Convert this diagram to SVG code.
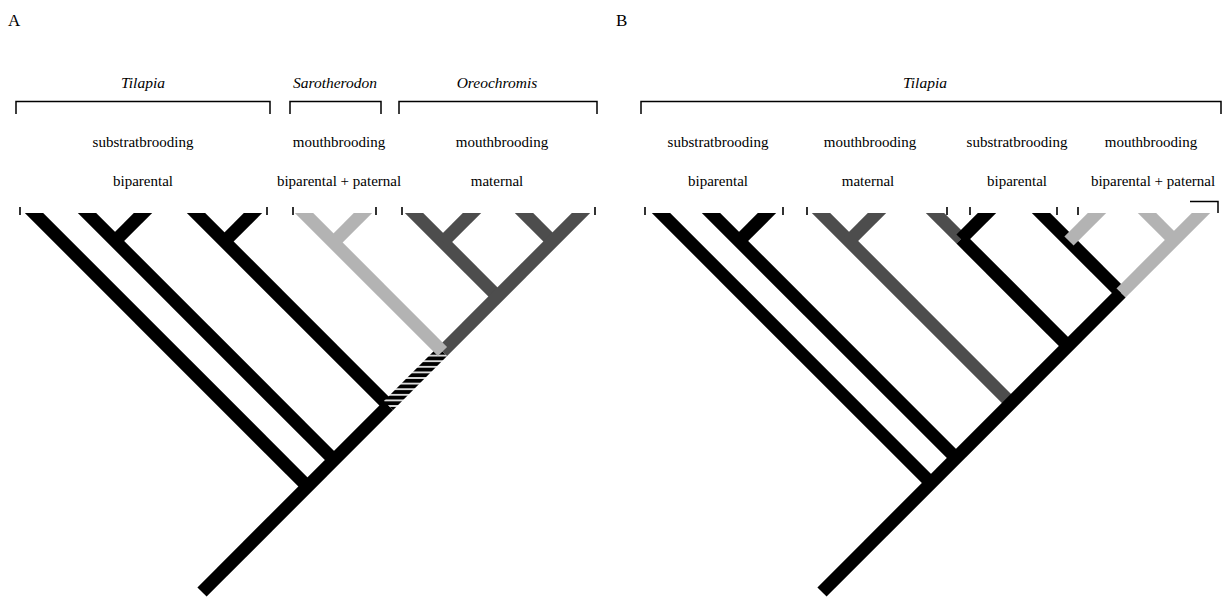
<svg xmlns="http://www.w3.org/2000/svg" width="1223" height="601" viewBox="0 0 1223 601">
<style>
text{font-family:"Liberation Serif","Times New Roman",serif;font-size:15px;fill:#000;text-anchor:middle}
.ttl{font-style:italic;font-size:15.5px}
.pl{font-size:17px;text-anchor:start}
.br{fill:none;stroke:#000;stroke-width:1.5}
.tk{stroke:#000;stroke-width:1.6}
.b{fill:none;stroke-width:13;stroke-linecap:butt}
.k{stroke:#000}.lg{stroke:#b3b3b3}.dg{stroke:#4d4d4d}.h{stroke:url(#hatch)}
</style>
<defs>
<pattern id="hatch" patternUnits="userSpaceOnUse" width="40" height="5.6">
<rect width="40" height="5.6" fill="#000"/><rect y="2" width="40" height="1.6" fill="#fff"/>
</pattern>
<clipPath id="clipTips"><rect x="0" y="213" width="1223" height="400"/></clipPath>
</defs>
<rect width="1223" height="601" fill="#fff"/>

<g id="panel-labels">
<text class="pl" x="8" y="26">A</text>
<text class="pl" x="616" y="26">B</text>
</g>

<g id="a-tilapia">
<text class="ttl" x="143" y="88">Tilapia</text>
<path class="br" d="M16,114V101.5H270V114"/>
<text x="143" y="147">substratbrooding</text>
<text x="143" y="186">biparental</text>
</g>
<g id="a-sarotherodon">
<text class="ttl" x="335" y="88">Sarotherodon</text>
<path class="br" d="M290,114V101.5H381V114"/>
<text x="339" y="147">mouthbrooding</text>
<text x="339" y="186">biparental + paternal</text>
</g>
<g id="a-oreochromis">
<text class="ttl" x="497" y="88">Oreochromis</text>
<path class="br" d="M399,114V101.5H597V114"/>
<text x="502" y="147">mouthbrooding</text>
<text x="497" y="186">maternal</text>
</g>

<g id="b-tilapia">
<text class="ttl" x="925" y="88">Tilapia</text>
<path class="br" d="M641,114V101.5H1221V114"/>
</g>
<g id="b-group1">
<text x="718" y="147">substratbrooding</text>
<text x="718" y="186">biparental</text>
</g>
<g id="b-group2">
<text x="870" y="147">mouthbrooding</text>
<text x="868" y="186">maternal</text>
</g>
<g id="b-group3">
<text x="1017" y="147">substratbrooding</text>
<text x="1017" y="186">biparental</text>
</g>
<g id="b-group4">
<text x="1151" y="147">mouthbrooding</text>
<text x="1153" y="186">biparental + paternal</text>
</g>

<g id="ticks">
<path class="tk" d="M20,207V215M267,207V215M293,207V215M376,207V215M402,207V215M595,207V215"/>
<path class="tk" d="M645,207V215M783,207V215M807,207V215M947,207V215M970,207V215M1057,207V215M1078,207V215"/>
<path class="br" d="M1190,201.5H1218V213"/>
</g>

<g id="connectors" clip-path="url(#clipTips)">
<g id="tree-a">
<path class="b k" d="M21,200L307.5,486.5"/>
<path class="b k" d="M74,200L334,460"/>
<path class="b k" d="M156,200L115,241"/>
<path class="b k" d="M183,200L388.5,405.5"/>
<path class="b k" d="M266,200L224.5,241.5"/>
<path class="b k" d="M202,592L388.5,405.5"/>
<path class="b h" d="M388.5,405.5L442.5,351.5"/>
<path class="b dg" d="M401,200L497.5,296.5"/>
<path class="b dg" d="M485,200L443,242"/>
<path class="b dg" d="M511,200L552.5,241.5"/>
<path class="b dg" d="M594,200L442.5,351.5"/>
<path class="b lg" d="M291,200L442.5,351.5"/>
<path class="b lg" d="M376,200L334.5,241.5"/>
</g>
<g id="tree-b">
<path class="b k" d="M648,200L931,483"/>
<path class="b k" d="M698,200L956,458"/>
<path class="b k" d="M780,200L739,241"/>
<path class="b dg" d="M808,200L1011,403"/>
<path class="b dg" d="M890,200L849,241"/>
<path class="b dg" d="M922,200L961,239"/>
<path class="b k" d="M1000,200L961,239"/>
<path class="b k" d="M961,239L1068,346"/>
<path class="b k" d="M1028,200L1121,293"/>
<path class="b lg" d="M1110,200L1069,241"/>
<path class="b lg" d="M1134,200L1174,240"/>
<path class="b lg" d="M1214,200L1121,293"/>
<path class="b k" d="M1121,293L822,592"/>
</g>
</g>
</svg>
